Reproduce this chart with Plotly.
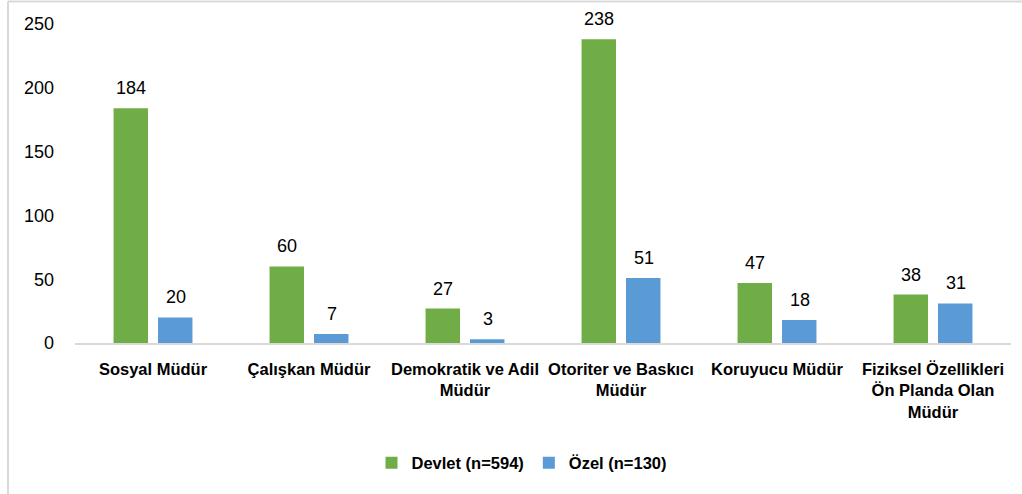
import plotly.graph_objects as go

categories = ["Sosyal Müdür", "Çalışkan Müdür", "Demokratik ve Adil<br>Müdür",
              "Otoriter ve Baskıcı<br>Müdür", "Koruyucu Müdür",
              "Fiziksel Özellikleri<br>Ön Planda Olan<br>Müdür"]
devlet = [184, 60, 27, 238, 47, 38]
ozel = [20, 7, 3, 51, 18, 31]
series_names = ["Devlet (n=594)", "Özel (n=130)"]
colors = ["#70AD47", "#5B9BD5"]
y_ticks = [0, 50, 100, 150, 200, 250]

W, H = 1022, 494
L, R, T, B = 75, 11, 24, 151
plot_w = W - L - R
plot_h = H - T - B

fig = go.Figure()
for name, vals, col in zip(series_names, [devlet, ozel], colors):
    fig.add_trace(go.Bar(x=categories, y=vals, name=name, marker_color=col,
                         marker_line_width=0))

annotations = []
for vals, shift in zip([devlet, ozel], [-22.5, 22.5]):
    for c, v in zip(categories, vals):
        annotations.append(dict(x=c, y=v, text=str(v), showarrow=False,
                                xshift=shift, yshift=8, yanchor="bottom",
                                font=dict(family="Liberation Sans", size=18, color="#000")))

top_y = (plot_h + T - 1.5) / plot_h
left_x = (8 - L) / plot_w
shapes = [
    dict(type="line", xref="paper", yref="paper",
         x0=left_x, x1=(W + 5 - L) / plot_w, y0=top_y, y1=top_y,
         line=dict(color="#d9d9d9", width=2)),
    dict(type="line", xref="paper", yref="paper",
         x0=left_x, x1=left_x, y0=-(B + 5) / plot_h, y1=top_y,
         line=dict(color="#d9d9d9", width=2)),
]

fig.update_layout(
    width=W, height=H,
    margin=dict(l=L, r=R, t=T, b=B, autoexpand=False),
    paper_bgcolor="white", plot_bgcolor="white",
    barmode="group", bargap=0.43, bargroupgap=0.225,
    annotations=annotations, shapes=shapes,
    showlegend=True,
    legend=dict(orientation="h", xanchor="center", x=(522 - L) / plot_w,
                yanchor="middle", y=(343 - 463) / plot_h,
                font=dict(family="Liberation Sans", size=16.5, color="#000", weight="bold"),
                itemwidth=30, traceorder="normal"),
    font=dict(family="Liberation Sans", color="#000"),
)
fig.update_xaxes(showline=True, linecolor="#d9d9d9", linewidth=2, ticks="",
                 showgrid=False, ticklabelstandoff=10, tickangle=0, automargin=False,
                 tickfont=dict(family="Liberation Sans", size=16.5, color="#000", weight="bold"))
fig.update_yaxes(range=[0, 250], tickvals=y_ticks, showgrid=False, zeroline=False,
                 showline=False, ticklabelstandoff=20, automargin=False,
                 tickfont=dict(family="Liberation Sans", size=18, color="#000"))

fig.write_html("out.html", config={"displayModeBar": False},
               post_script="document.body.style.margin='0';")
